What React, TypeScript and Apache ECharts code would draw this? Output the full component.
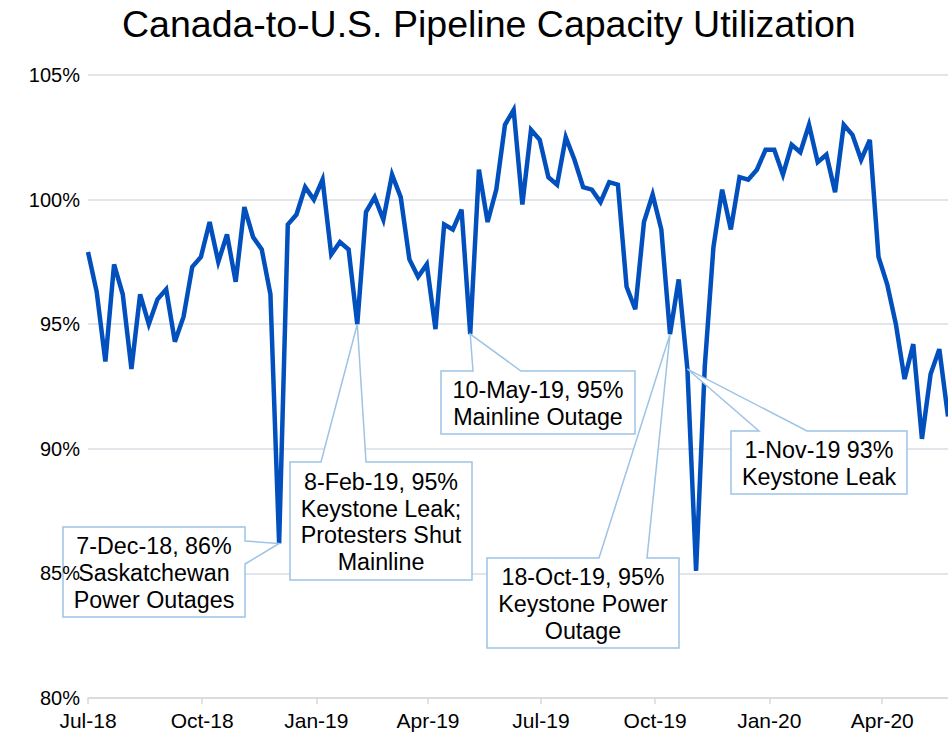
import React, { useEffect, useRef } from "react";
import * as echarts from "echarts";

// ---- Data ----
const startDate = "2018-07-06"; // first weekly observation (Friday)
const utilization = [
  97.9, 96.3, 93.5, 97.4, 96.2, 93.2, 96.2, 95.0, 96.0, 96.4,
  94.3, 95.3, 97.3, 97.7, 99.1, 97.5, 98.6, 96.7, 99.7, 98.5,
  98.0, 96.2, 86.2, 99.0, 99.4, 100.5, 100.0, 100.8, 97.8, 98.3,
  98.0, 95.0, 99.5, 100.1, 99.2, 101.0, 100.1, 97.6, 96.9, 97.4,
  94.8, 99.0, 98.8, 99.6, 94.6, 101.2, 99.1, 100.4, 103.0, 103.6,
  99.8, 102.8, 102.4, 100.9, 100.6, 102.5, 101.6, 100.5, 100.4, 99.9,
  100.7, 100.6, 96.5, 95.6, 99.1, 100.2, 98.8, 94.6, 96.8, 93.2,
  85.1, 93.3, 98.1, 100.4, 98.8, 100.9, 100.8, 101.2, 102.0, 102.0,
  101.0, 102.2, 101.9, 103.0, 101.5, 101.8, 100.3, 103.0, 102.6, 101.6,
  102.4, 97.7, 96.6, 95.0, 92.8, 94.2, 90.4, 93.0, 94.0, 91.3,
];
const tickDates = [
  "2018-07-06", "2018-10-06", "2019-01-06", "2019-04-06",
  "2019-07-06", "2019-10-06", "2020-01-06", "2020-04-06",
];
const tickLabels = ["Jul-18", "Oct-18", "Jan-19", "Apr-19", "Jul-19", "Oct-19", "Jan-20", "Apr-20"];
const yTicks = [80, 85, 90, 95, 100, 105];

const annotationDates = ["2018-12-07", "2019-02-08", "2019-05-10", "2019-10-18", "2019-11-01"];
const annotationTexts = [
  "7-Dec-18, 86%\nSaskatchewan\nPower Outages",
  "8-Feb-19, 95%\nKeystone Leak;\nProtesters Shut\nMainline",
  "10-May-19, 95%\nMainline Outage",
  "18-Oct-19, 95%\nKeystone Power\nOutage",
  "1-Nov-19 93%\nKeystone Leak",
];
const titleText = "Canada-to-U.S. Pipeline Capacity Utilization";

const DAY = 86400000;
const toTs = (s: string) => {
  const [y, m, d] = s.split("-").map(Number);
  return Date.UTC(y, m - 1, d);
};
const startTs = toTs(startDate);
// x positions as days since the first observation (weekly)
const dayOf = (s: string) => Math.round((toTs(s) - startTs) / DAY);
const weekDays = utilization.map((_, i) => i * 7);
const tickDays = tickDates.map(dayOf);

const FONT = "'Liberation Sans', Arial, sans-serif";

export default function App() {
  const ref = useRef<HTMLDivElement>(null);
  useEffect(() => {
    if (!ref.current) return;
    const chart = echarts.init(ref.current, undefined, { renderer: "svg" });
    const seriesData = utilization.map((v, i) => [weekDays[i], v]);
    const yBase = {
      type: "value",
      min: yTicks[0],
      max: yTicks[yTicks.length - 1],
      interval: 5,
      axisLine: { show: false },
      axisTick: { show: false },
    };
    chart.setOption({
      animation: false,
      backgroundColor: "#ffffff",
      title: {
        text: titleText,
        left: 117,
        top: 0,
        textStyle: { fontFamily: FONT, fontSize: 37.5, fontWeight: "normal", color: "#000" },
      },
      grid: { left: 88, right: 0, top: 75, bottom: 42, containLabel: false },
      xAxis: {
        type: "value",
        min: weekDays[0],
        max: weekDays[weekDays.length - 1],
        axisLine: { show: true, onZero: false, lineStyle: { color: "#d9d9d9", width: 1.5 } },
        axisTick: { show: true, customValues: tickDays, length: 6, lineStyle: { color: "#d9d9d9", width: 1.5 } },
        axisLabel: {
          customValues: tickDays,
          fontFamily: FONT,
          fontSize: 21,
          color: "#000",
          margin: 12,
          formatter: (v: number) => {
            const k = tickDays.indexOf(Math.round(v));
            return k >= 0 ? tickLabels[k] : "";
          },
        },
        splitLine: { show: false },
      },
      yAxis: [
        {
          ...yBase,
          axisLabel: { show: false },
          splitLine: { show: true, lineStyle: { color: "#d9dde3", width: 1.5 } },
        },
        {
          ...yBase,
          position: "left",
          z: 30,
          splitLine: { show: false },
          axisLabel: {
            fontFamily: FONT,
            fontSize: 20,
            color: "#000",
            margin: 8,
            formatter: "{value}%",
          },
        },
      ],
      series: [
        {
          type: "line",
          data: seriesData,
          yAxisIndex: 0,
          showSymbol: false,
          symbol: "none",
          lineStyle: { color: "#0250be", width: 4.5, join: "miter" },
          z: 2,
        },
      ],
    });

    // Callout box layout (pixels); wedge tips come from the data via the axes.
    const boxes = [
      { l: 63, t: 527, r: 245, b: 617, side: "right", a: 541, c: 564 },
      { l: 290, t: 462, r: 472, b: 580, side: "top", a: 321, c: 366 },
      { l: 441, t: 371, r: 635, b: 434, side: "top", a: 473, c: 521 },
      { l: 487, t: 558, r: 679, b: 648, side: "top", a: 599, c: 647 },
      { l: 731, t: 431, r: 907, b: 494, side: "top", a: 759, c: 807 },
    ];
    const graphics: any[] = [];
    annotationDates.forEach((d, k) => {
      const x = dayOf(d);
      const idx = weekDays.indexOf(x);
      const tip = chart.convertToPixel({ gridIndex: 0 }, [x, utilization[idx]]) as number[];
      const b = boxes[k];
      let pts: number[][];
      if (b.side === "right") {
        pts = [[b.l, b.t], [b.r, b.t], [b.r, b.a], tip, [b.r, b.c], [b.r, b.b], [b.l, b.b]];
      } else {
        pts = [[b.l, b.t], [b.a, b.t], tip, [b.c, b.t], [b.r, b.t], [b.r, b.b], [b.l, b.b]];
      }
      graphics.push({
        type: "polygon",
        shape: { points: pts },
        style: { fill: "#ffffff", stroke: "#9dc3e6", lineWidth: 1.5 },
        z: 10,
      });
      graphics.push({
        type: "text",
        x: (b.l + b.r) / 2,
        y: (b.t + b.b) / 2 + 1,
        style: {
          text: annotationTexts[k],
          fontFamily: FONT,
          fontSize: 23.3,
          lineHeight: 26.7,
          fill: "#000",
          align: "center",
          verticalAlign: "middle",
        },
        z: 11,
      });
    });
    chart.setOption({ graphic: graphics });
    return () => chart.dispose();
  }, []);
  return <div ref={ref} style={{ width: 948, height: 740, position: "absolute", left: 0, top: 0 }} />;
}
